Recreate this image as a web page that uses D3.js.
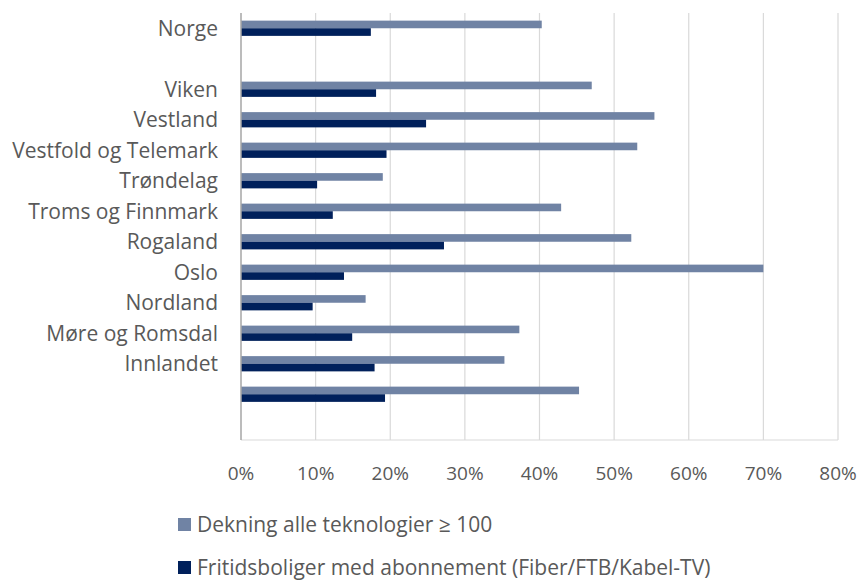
<!DOCTYPE html>
<html lang="no">
<head>
<meta charset="utf-8">
<title>Dekning og abonnement fritidsboliger</title>
<script src="https://cdn.jsdelivr.net/npm/d3@7"></script>
<style>
  body { margin: 0; background: #fff; }
  svg text { font-family: "Open Sans", sans-serif; fill: #595959; }
</style>
</head>
<body>
<svg id="chart" width="862" height="581"></svg>
<script>
// -- categories top to bottom (blank rows are spacers, one unlabeled row keeps its bars)
var categories = ["Norge", "_gap1", "Viken", "Vestland", "Vestfold og Telemark", "Trøndelag",
                  "Troms og Finnmark", "Rogaland", "Oslo", "Nordland", "Møre og Romsdal",
                  "Innlandet", "_nolabel", "_gap2"];
var seriesNames = ["Dekning alle teknologier \u2265 100",
                   "Fritidsboliger med abonnement (Fiber/FTB/Kabel-TV)"];
var dekning    = [40.3, null, 47.0, 55.4, 53.1, 19.0, 42.9, 52.3, 70.0, 16.7, 37.3, 35.3, 45.3, null];
var abonnement = [17.4, null, 18.1, 24.8, 19.5, 10.2, 12.3, 27.2, 13.8,  9.6, 14.9, 17.9, 19.3, null];
var xTicks = [0, 10, 20, 30, 40, 50, 60, 70, 80];

var colors = ["#7083a4", "#00205b"];

var svg = d3.select("#chart");
var plotLeft = 241, plotRight = 838, plotTop = 13, plotBottom = 440;

var x = d3.scaleLinear().domain([0, 80]).range([plotLeft, plotRight]);
var y = d3.scaleBand().domain(categories).range([plotTop, plotBottom]);
var sub = d3.scaleBand().domain([0, 1]).range([y.bandwidth() * 0.25, y.bandwidth() * 0.75]);

// - gridlines
svg.append("g").selectAll("line").data(xTicks.slice(1)).enter().append("line")
    .attr("x1", d => x(d)).attr("x2", d => x(d))
    .attr("y1", plotTop).attr("y2", plotBottom)
    .attr("stroke", "#d9d9d9").attr("stroke-width", 1.2);

svg.append("line")
    .attr("x1", plotLeft).attr("x2", plotRight).attr("y1", plotBottom).attr("y2", plotBottom)
    .attr("stroke", "#d9d9d9").attr("stroke-width", 1.2);

// - bars
[dekning, abonnement].forEach(function(vals, s) {
    svg.append("g").selectAll("rect")
        .data(categories.map((c, i) => ({c: c, v: vals[i]})).filter(d => d.v != null))
        .enter().append("rect")
        .attr("x", x(0))
        .attr("y", d => y(d.c) + sub(s))
        .attr("width", d => x(d.v) - x(0))
        .attr("height", sub.bandwidth())
        .attr("fill", colors[s]);
});

// - vertical axis line
svg.append("line")
    .attr("x1", plotLeft).attr("x2", plotLeft).attr("y1", plotTop).attr("y2", plotBottom)
    .attr("stroke", "#a6a6a6").attr("stroke-width", 1.5);

// - category labels
svg.append("g").selectAll("text")
    .data(categories.filter(c => c.charAt(0) !== "_"))
    .enter().append("text")
    .attr("x", 218)
    .attr("y", d => y(d) + y.bandwidth() / 2)
    .attr("dy", "0.35em")
    .attr("text-anchor", "end")
    .style("font-size", "21px")
    .text(d => d);

// - x tick labels
svg.append("g").selectAll("text").data(xTicks).enter().append("text")
    .attr("x", d => x(d))
    .attr("y", 473)
    .attr("dy", "0.35em")
    .attr("text-anchor", "middle")
    .style("font-size", "19px")
    .text(d => d + "%");

// - legend
var legend = svg.append("g").selectAll("g").data(seriesNames).enter().append("g")
    .attr("transform", (d, i) => "translate(178," + (525 + i * 43) + ")");
legend.append("rect")
    .attr("x", 0).attr("y", -7).attr("width", 13).attr("height", 13)
    .attr("fill", (d, i) => colors[i]);
legend.append("text")
    .attr("x", 19).attr("dy", "0.35em")
    .style("font-size", "21px")
    .text(d => d);
</script>
</body>
</html>
